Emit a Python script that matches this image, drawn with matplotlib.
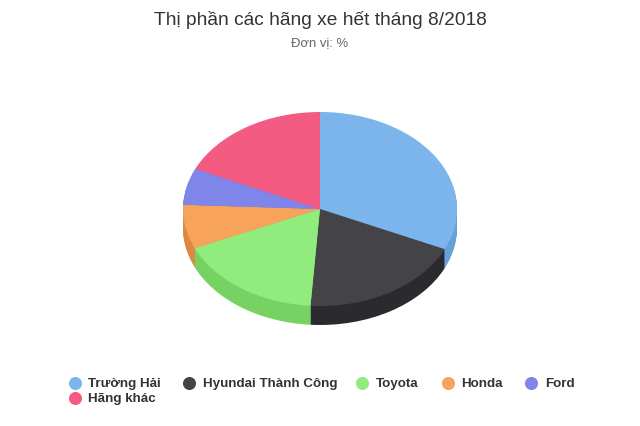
# Market share pie, drawn as stacked wedges to get the 3D side

import matplotlib
matplotlib.use("Agg")
import matplotlib.pyplot as plt

plt.rcParams['font.family'] = ['Liberation Sans', 'DejaVu Sans']

labels = ["Trường Hải", "Hyundai Thành Công", "Toyota", "Honda", "Ford", "Hãng khác"]
values = [31.8, 19.3, 17.3, 7.3, 6.1, 18.2]
colors = ["#7cb5ec", "#434348", "#90ed7d", "#f7a35c", "#8085e9", "#f45b82"]
side_colors = ["#68a1d8", "#2a2a2f", "#76d363", "#dd8942", "#666bcf", "#d84266"]

title = "Thị phần các hãng xe hết tháng 8/2018"
subtitle = "Đơn vị: %"

W, H = 640, 427
cx, cy, rx, ry, depth = 320, 210, 137, 97, 19

fig = plt.figure(figsize=(W/100, H/100), dpi=100)
ax = fig.add_axes([0, 0, 1, 1])

# side layers first, one per pixel of depth, then the top face
for d in range(depth, 0, -1):
    ax.pie(values, colors=side_colors, startangle=90, counterclock=False,
           center=(0, -d/ry), wedgeprops={'linewidth': 0.6, 'edgecolor': 'none'})
ax.pie(values, colors=colors, startangle=90, counterclock=False,
       wedgeprops={'linewidth': 0})

ax.set_aspect('auto')
ax.set_xlim(-cx/rx, (W-cx)/rx)
ax.set_ylim(-(H-cy)/ry, cy/ry)
ax.axis('off')

# overlay in pixel coordinates for the texts and legend
ov = fig.add_axes([0, 0, 1, 1], facecolor='none')
ov.set_xlim(0, W)
ov.set_ylim(H, 0)
ov.axis('off')

ov.text(320, 20, title, ha='center', va='center', fontsize=13.75, color='#333333')
ov.text(320, 43, subtitle, ha='center', va='center', fontsize=9.4, color='#666666')

legend_x = [74.5, 189, 361.5, 447.5, 531, 74.5]
legend_y = [383.5, 383.5, 383.5, 383.5, 383.5, 398.5]
for name, col, lx, ly in zip(labels, colors, legend_x, legend_y):
    ov.plot(lx, ly, 'o', ms=9.4, color=col, mew=0)
    ov.text(lx+14, ly+0.5, name, ha='left', va='center', fontsize=9.6,
            fontweight='bold', color='#333333')

fig.savefig("out.png", dpi=100)
